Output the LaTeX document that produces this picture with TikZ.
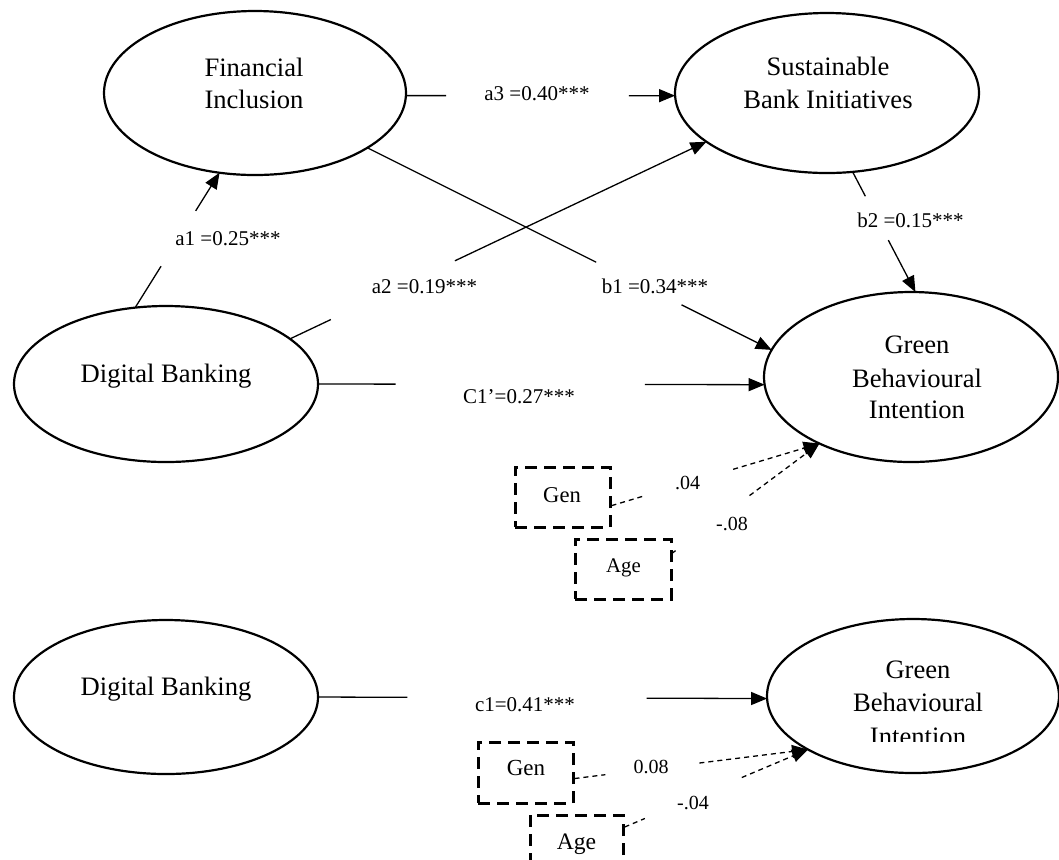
\documentclass[tikz,border=0pt]{standalone}
\usepackage{fontspec}
\setmainfont{Liberation Serif}
\usetikzlibrary{shapes.geometric,arrows.meta,calc}
\begin{document}
\begin{tikzpicture}[x=0.5pt,y=-0.5pt,
  ell/.style={ellipse, draw, line width=1.1pt, inner sep=0pt, outer sep=0pt},
  big/.style={font=\fontsize{13.3}{16}\selectfont, anchor=base, inner sep=0pt},
  lab/.style={font=\fontsize{10.5}{12}\selectfont, anchor=base, inner sep=0pt},
  sml/.style={font=\fontsize{10}{12}\selectfont, anchor=base, inner sep=0pt},
  conn/.style={line width=0.65pt},
  tip/.style={-{Triangle[length=8pt,width=6.5pt]}},
  dconn/.style={line width=0.65pt, dash pattern=on 2.5pt off 2pt},
  dbox/.style={draw, line width=1.5pt, dash pattern=on 6pt off 3.5pt, inner sep=0pt}]
\useasboundingbox (0,0) rectangle (1059,859);
\clip (0,0) rectangle (1059,859);

% latent variables
\node[ell, minimum width=151pt, minimum height=82pt] (fi) at (255,93) {};
\node[ell, minimum width=152pt, minimum height=80pt] (sbi) at (827,93) {};
\node[ell, minimum width=152pt, minimum height=78pt] (db1) at (166,384) {};
\node[ell, minimum width=147pt, minimum height=85pt] (gbi1) at (911,377) {};
\node[ell, minimum width=152pt, minimum height=77pt] (db2) at (166,697) {};
\node[ell, minimum width=146pt, minimum height=77pt] (gbi2) at (913,696) {};

\node[big] (fit1) at (254,76) {Financial};
\node[big] (fit2) at (254,108) {Inclusion};
\node[big] (sbit1) at (828,75) {Sustainable};
\node[big] (sbit2) at (828,108) {Bank Initiatives};
\node[big] (db1t) at (166,382) {Digital Banking};
\node[big] (gbi1t1) at (917,353) {Green};
\node[big] (gbi1t2) at (917,387) {Behavioural};
\node[big] (gbi1t3) at (917,418) {Intention};
\node[big] (db2t) at (166,695) {Digital Banking};
\node[big] (gbi2t1) at (918,678) {Green};
\node[big] (gbi2t2) at (918,711) {Behavioural};
\begin{scope}
  \clip (800,600) rectangle (1059,741.5);
  \node[big] (gbi2t3) at (918,745) {Intention};
\end{scope}

% control variables
\node[dbox, minimum width=47.5pt, minimum height=30pt] (gen1) at (562.5,497) {};
\node[dbox, minimum width=48pt, minimum height=30pt] (age1) at (623,569) {};
\node[dbox, minimum width=47.5pt, minimum height=30.5pt] (gen2) at (525.5,772.5) {};
\node[dbox, minimum width=46.5pt, minimum height=30.5pt] (age2) at (576.5,845.5) {};
\node[font=\fontsize{11.3}{13}\selectfont, anchor=base, inner sep=0pt] (gen1t) at (562,502) {Gen};
\node[font=\fontsize{10.4}{12}\selectfont, anchor=base, inner sep=0pt] (age1t) at (623.5,572) {Age};
\node[font=\fontsize{11.5}{13}\selectfont, anchor=base, inner sep=0pt] (gen2t) at (526,775) {Gen};
\node[font=\fontsize{11.8}{13}\selectfont, anchor=base, inner sep=0pt] (age2t) at (576.5,849) {Age};

% end points of connectors
\coordinate (a1s) at (db1.112.4);  \coordinate (a1e) at (fi.246.8);
\coordinate (a2s) at (db1.20.3);   \coordinate (a2e) at (sbi.202.2);
\coordinate (b1s) at (fi.334.8);   \coordinate (b1e) at (gbi1.169.7);
\coordinate (a3s) at (fi.-1.5);    \coordinate (a3e) at (sbi.181.5);
\coordinate (b2s) at (sbi.288);    \coordinate (b2e) at (gbi1.87.3);
\coordinate (cps) at (db1.-0.8);   \coordinate (cpe) at (gbi1.183.5);
\coordinate (g1s) at (gen1.-10.7); \coordinate (g1e) at (gbi1.216.5);
\coordinate (ag1s) at (age1.18);   
\coordinate (c1s) at (db2.-0.75);  \coordinate (c1e) at (gbi2.181.2);
\coordinate (g2s) at (gen2.-7.5);  \coordinate (g2e) at (gbi2.207);
\coordinate (ag2s) at (age2.21.7);

% solid paths (broken where the label sits)
\draw[conn] (a1s) -- ($(a1s)!0.307!(a1e)$);
\draw[conn,tip] ($(a1s)!0.717!(a1e)$) -- (a1e);
\draw[conn] (a2s) -- ($(a2s)!0.098!(a2e)$);
\draw[conn,tip] ($(a2s)!0.396!(a2e)$) -- (a2e);
\draw[conn] (b1s) -- ($(b1s)!0.566!(b1e)$);
\draw[conn,tip] ($(b1s)!0.777!(b1e)$) -- (b1e);
\draw[conn] (a3s) -- ($(a3s)!0.149!(a3e)$);
\draw[conn,tip] ($(a3s)!0.828!(a3e)$) -- (a3e);
\draw[conn] (b2s) -- ($(b2s)!0.203!(b2e)$);
\draw[conn,tip] ($(b2s)!0.568!(b2e)$) -- (b2e);
\draw[conn] (cps) -- ($(cps)!0.174!(cpe)$);
\draw[conn,tip] ($(cps)!0.732!(cpe)$) -- (cpe);
\draw[conn] (c1s) -- ($(c1s)!0.199!(c1e)$);
\draw[conn,tip] ($(c1s)!0.732!(c1e)$) -- (c1e);

% dashed control paths
\draw[dconn] (g1s) -- ($(g1s)!0.161!(g1e)$);
\draw[dconn,tip] ($(g1s)!0.585!(g1e)$) -- (g1e);
\draw[dconn] (ag1s) -- ($(ag1s)!0.021!(g1e)$);
\draw[dconn,tip] ($(ag1s)!0.524!(g1e)$) -- (g1e);
\draw[dconn] (g2s) -- ($(g2s)!0.132!(g2e)$);
\draw[dconn,tip] ($(g2s)!0.535!(g2e)$) -- (g2e);
\draw[dconn] (ag2s) -- ($(ag2s)!0.111!(g2e)$);
\draw[dconn,tip] ($(ag2s)!0.639!(g2e)$) -- (g2e);

% path labels
\node[lab] (la1) at (228,245) {a1 =0.25***};
\node[lab] (la2) at (424.5,293) {a2 =0.19***};
\node[lab] (lb1) at (655,293) {b1 =0.34***};
\node[lab] (la3) at (537,100) {a3 =0.40***};
\node[lab] (lb2) at (910.5,227) {b2 =0.15***};
\node[lab] (lcp) at (519,403) {C1’=0.27***};
\node[lab] (lc1) at (525,711) {c1=0.41***};
\node[sml] (lg1) at (687.5,489) {.04};
\node[sml] (lag1) at (732,530) {-.08};
\node[sml] (lg2) at (651,773) {0.08};
\node[sml] (lag2) at (693,809) {-.04};
\end{tikzpicture}
\end{document}
